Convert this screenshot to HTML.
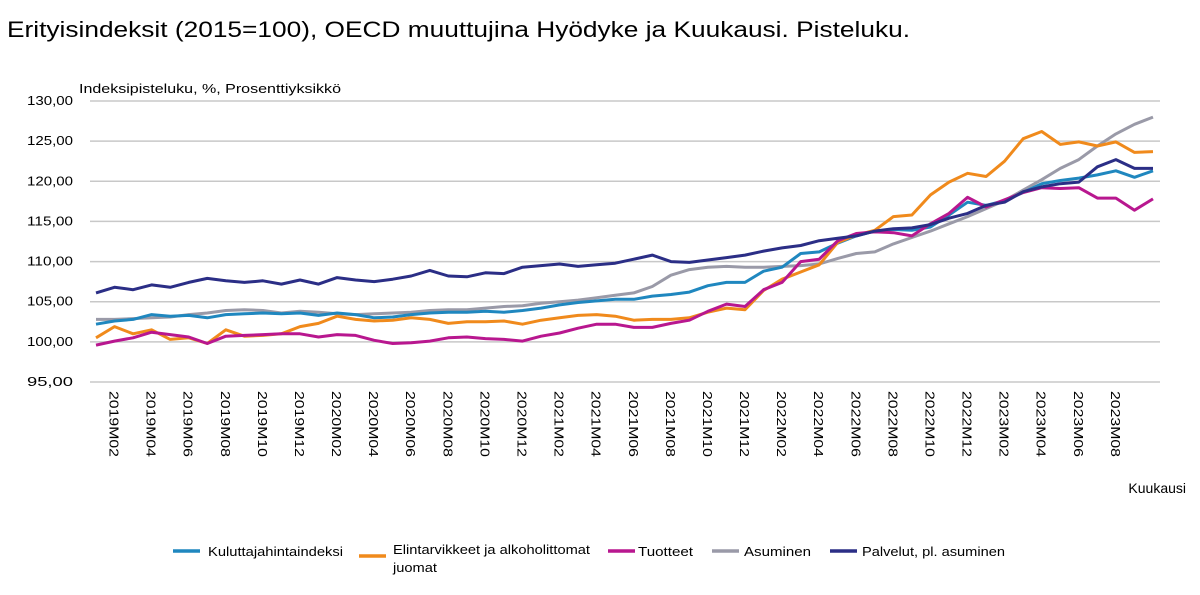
<!DOCTYPE html>
<html><head><meta charset="utf-8"><style>
body{margin:0;background:#fff;font-family:"Liberation Sans",Arial,sans-serif}
svg{display:block}
</style></head><body>
<svg id="chart" width="1200" height="595" xmlns="http://www.w3.org/2000/svg">
<text x="7" y="37" font-size="22" fill="#000" textLength="903" lengthAdjust="spacingAndGlyphs">Erityisindeksit (2015=100), OECD muuttujina Hyödyke ja Kuukausi. Pisteluku.</text>
<text x="79" y="93" font-size="13" fill="#000" textLength="262" lengthAdjust="spacingAndGlyphs">Indeksipisteluku, %, Prosenttiyksikkö</text>
<text x="1186" y="493" font-size="14" text-anchor="end" fill="#000">Kuukausi</text>
<g id="grid"></g><g id="yticks"></g><g id="xticks"></g><g id="lines"></g><g id="legend"></g>
</svg>
<script>
const yTicks=[95,100,105,110,115,120,125,130];
const seriesNames=["Kuluttajahintaindeksi","Elintarvikkeet ja alkoholittomat juomat","Tuotteet","Asuminen","Palvelut, pl. asuminen"];
const seriesColors=["#1f87bf","#f08a1c","#b8178f","#9a9aa8","#2b2e86"];
const khi=[102.2,102.6,102.8,103.4,103.2,103.3,103.0,103.4,103.5,103.6,103.5,103.6,103.3,103.6,103.4,103.0,103.1,103.4,103.6,103.7,103.7,103.8,103.7,103.9,104.2,104.6,104.9,105.1,105.3,105.3,105.7,105.9,106.2,107.0,107.4,107.4,108.8,109.3,111.0,111.2,112.3,113.2,113.8,114.0,113.9,114.3,115.8,117.4,117.0,117.6,118.6,119.7,120.1,120.4,120.8,121.3,120.5,121.3];
const food=[100.5,101.9,101.0,101.5,100.3,100.5,99.8,101.5,100.7,100.8,101.0,101.9,102.3,103.2,102.8,102.6,102.7,103.0,102.8,102.3,102.5,102.5,102.6,102.2,102.7,103.0,103.3,103.4,103.2,102.7,102.8,102.8,103.0,103.7,104.2,104.0,106.4,107.8,108.7,109.6,112.4,113.3,113.9,115.6,115.8,118.3,119.9,121.0,120.6,122.5,125.3,126.2,124.6,124.9,124.4,124.9,123.6,123.7];
const goods=[99.6,100.1,100.5,101.2,100.9,100.6,99.8,100.7,100.8,100.9,101.0,101.0,100.6,100.9,100.8,100.2,99.8,99.9,100.1,100.5,100.6,100.4,100.3,100.1,100.7,101.1,101.7,102.2,102.2,101.8,101.8,102.3,102.7,103.8,104.7,104.4,106.5,107.4,110.0,110.3,112.6,113.5,113.7,113.6,113.2,114.7,116.0,118.0,116.8,117.7,118.6,119.2,119.1,119.2,117.9,117.9,116.4,117.8];
const housing=[102.8,102.8,102.9,103.0,103.1,103.4,103.6,103.9,104.0,103.9,103.6,103.8,103.7,103.5,103.4,103.5,103.6,103.7,103.9,104.0,104.0,104.2,104.4,104.5,104.8,105.0,105.2,105.5,105.8,106.1,106.9,108.3,109.0,109.3,109.4,109.3,109.3,109.4,109.5,109.7,110.4,111.0,111.2,112.2,113.0,113.8,114.7,115.6,116.6,117.6,118.9,120.2,121.6,122.7,124.4,125.9,127.1,128.0];
const services=[106.1,106.8,106.5,107.1,106.8,107.4,107.9,107.6,107.4,107.6,107.2,107.7,107.2,108.0,107.7,107.5,107.8,108.2,108.9,108.2,108.1,108.6,108.5,109.3,109.5,109.7,109.4,109.6,109.8,110.3,110.8,110.0,109.9,110.2,110.5,110.8,111.3,111.7,112.0,112.6,112.9,113.2,113.8,114.1,114.2,114.6,115.4,116.0,117.0,117.4,118.7,119.3,119.7,119.9,121.8,122.7,121.6,121.6];
const months=[];for(let y=2019;y<=2023;y++)for(let m=1;m<=12;m++)months.push(y+"M"+String(m).padStart(2,"0"));
const categories=months.slice(0,58);
const X0=96,X1=1153,Y95=382,Y130=101,L=90,R=1160;
const xS=i=>X0+i*(X1-X0)/(categories.length-1);
const yS=v=>Y95+(v-95)*(Y130-Y95)/35;
const NS="http://www.w3.org/2000/svg";
function mk(t,a,p){const e=document.createElementNS(NS,t);for(const k in a)e.setAttribute(k,a[k]);p.appendChild(e);return e;}
const grid=document.getElementById('grid'),yt=document.getElementById('yticks'),xt=document.getElementById('xticks'),lines=document.getElementById('lines'),leg=document.getElementById('legend');
yTicks.forEach(v=>{
 const l=mk('line',{x1:L,x2:R,y1:yS(v),y2:yS(v),stroke:'#c8c8c8','stroke-width':1.5},grid);
 
 
 const t=mk('text',{x:73,y:yS(v)+4,'font-size':13,'text-anchor':'end',fill:'#000',textLength:46,lengthAdjust:'spacingAndGlyphs'},yt);
 t.textContent=v.toFixed(2).replace('.',',');
 
 
});
categories.forEach((c,i)=>{
 if(i%2!==1||i>categories.length-3)return;
 const x=xS(i);
 const t=mk('text',{x:0,y:0,'font-size':13,fill:'#000',textLength:66,lengthAdjust:'spacingAndGlyphs',transform:`translate(${x-5},391) rotate(90)`},xt);
 t.textContent=c;
 
 
});
const data=[khi,food,goods,housing,services];
const order=[3,0,1,2,4];
order.forEach(s=>{
 const d=data[s].map((v,i)=>(i?'L':'M')+xS(i).toFixed(1)+' '+yS(v).toFixed(1)).join(' ');
 const p=mk('path',{d:d,fill:'none',stroke:seriesColors[s],'stroke-width':3,'stroke-linejoin':'round'},lines);
 
 
});
const legLineX=[173,359,608,712,830];
const legTextX=[208,393,638,744,862];
const legTextW=[135,197,55,67,143];
seriesNames.forEach((n,s)=>{
 const g=mk('g',{},leg);
 
 
 const ly=s===1?556:551;
 mk('line',{x1:legLineX[s],x2:legLineX[s]+27,y1:ly,y2:ly,stroke:seriesColors[s],'stroke-width':3.5},g);
 if(s===1){
  const t1=mk('text',{x:legTextX[s],y:554,'font-size':13,fill:'#000',textLength:legTextW[s],lengthAdjust:'spacingAndGlyphs'},g);t1.textContent='Elintarvikkeet ja alkoholittomat';
  const t2=mk('text',{x:legTextX[s],y:572,'font-size':13,fill:'#000',textLength:44,lengthAdjust:'spacingAndGlyphs'},g);t2.textContent='juomat';
 }else{
  const t=mk('text',{x:legTextX[s],y:556,'font-size':13,fill:'#000',textLength:legTextW[s],lengthAdjust:'spacingAndGlyphs'},g);t.textContent=n;
 }
});
</script>
</body></html>
